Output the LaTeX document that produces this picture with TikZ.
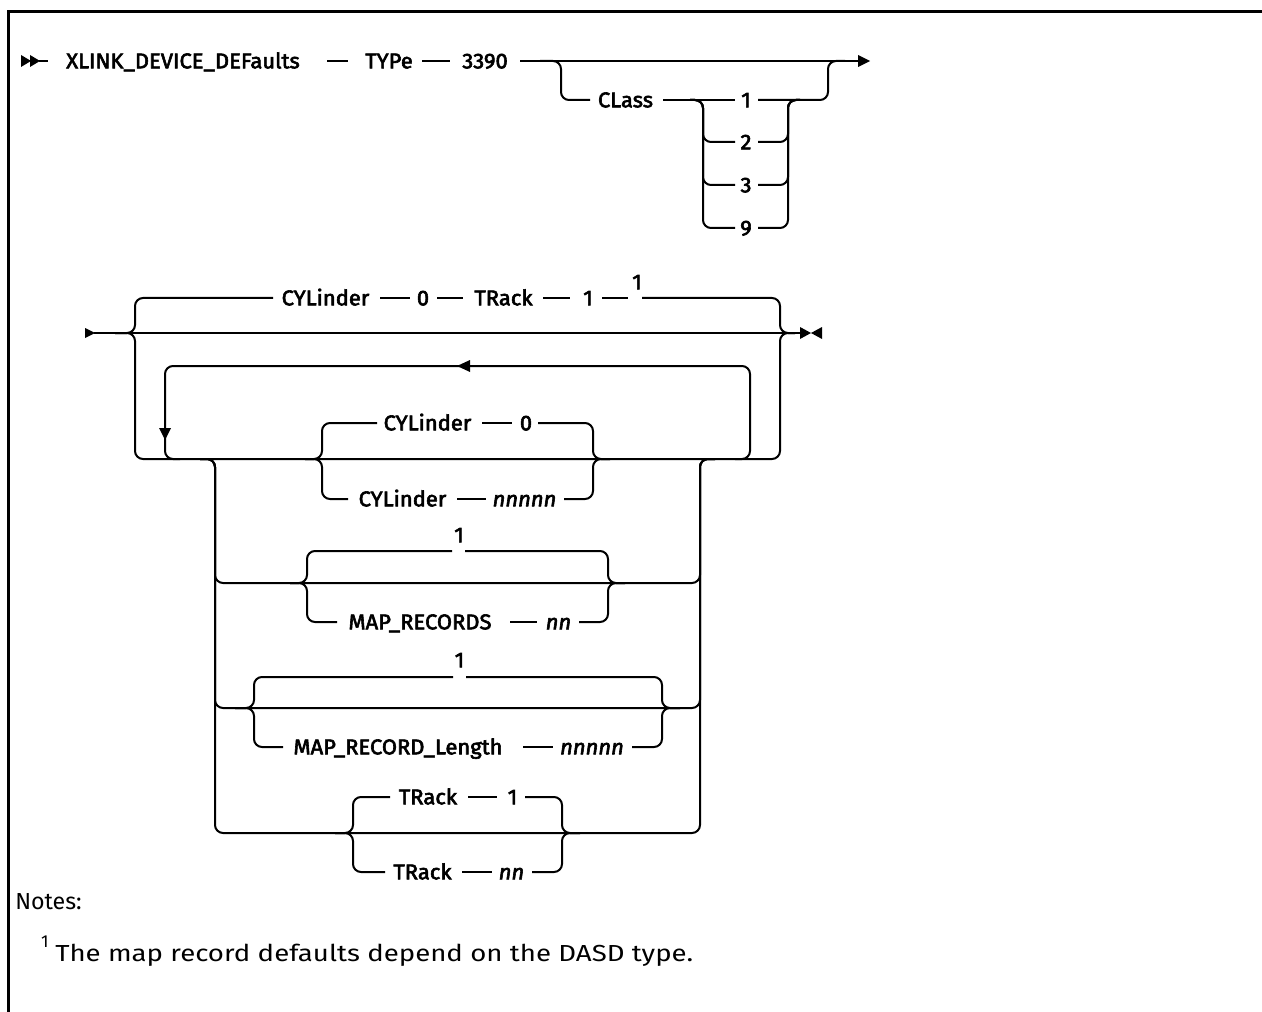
\documentclass[tikz,border=0pt]{standalone}
\usepackage{fontspec}
\setmainfont{Fira Sans}
\newfontfamily\labfont{Fira Sans}[FakeBold=2.8, FakeStretch=1.03]
\newfontfamily\notefont{Fira Sans}
\newfontfamily\notewide{Fira Sans}[FakeStretch=1.19]
\begin{document}
\begin{tikzpicture}[x=0.75pt,y=-0.75pt]
\tikzset{
  ln/.style={line width=1.5pt, rounded corners=6pt},
  lab/.style={font=\labfont\fontsize{16}{16}\selectfont, anchor=base, inner sep=0pt},
  labi/.style={font=\labfont\itshape\fontsize{16}{16}\selectfont, anchor=base, inner sep=0pt},
  note/.style={font=\notefont\fontsize{17.4}{17.4}\selectfont, anchor=base west, inner sep=0pt},
  notew/.style={font=\notewide\fontsize{17.4}{17.4}\selectfont, anchor=base west, inner sep=0pt},
  frame/.style={line width=2.25pt},
}
\newcommand\lbl[5][lab]{\node[#1] (#2) at (#3,{#4+7.3}) {#5};}
\useasboundingbox (0,0) rectangle (1262,1012);
% frame
\draw[frame] (1262,12) -- (8,12) -- (8,1012);

% ---------------- row 1 ----------------
\fill (21,55) -- (31,61) -- (21,67) -- cycle;
\fill (30,55) -- (40,61) -- (30,67) -- cycle;
\draw[ln] (39,61) -- (48,61);
\lbl{xl}{183}{61}{XLINK\_DEVICE\_DEFaults}
\draw[ln] (327,61) -- (348,61);
\lbl{typ}{389}{61}{TYPe}
\draw[ln] (422,61) -- (450,61);
\lbl{t3390}{485}{61}{3390}
\draw[ln] (520,61) -- (860,61);
\fill (858,55) -- (870,61) -- (858,67) -- cycle;
\draw[ln] (540,61) -- (561,61) -- (561,100) -- (590,100);
\lbl{cls}{625.5}{100}{CLass}
\draw[ln] (663,100) -- (735,100);
\draw[ln] (758,100) -- (828,100) -- (828,61) -- (845,61);
\foreach \yy in {142,185,228}{
  \draw[ln] (690,100) -- (703,100) -- (703,\yy) -- (735,\yy);
  \draw[ln] (758,\yy) -- (788,\yy) -- (788,100) -- (800,100);
}
\lbl{c1}{746}{100}{1}
\lbl{c2}{746}{142}{2}
\lbl{c3}{746}{185}{3}
\lbl{c9}{746}{228}{9}

% ---------------- row 2 ----------------
\fill (85,328) -- (95,333) -- (85,338) -- cycle;
\draw[ln] (94,333) -- (801,333);
\fill (800,327) -- (811,333) -- (800,339) -- cycle;
\fill (822,327) -- (811,333) -- (822,339) -- cycle;
% default branch above
\draw[ln] (115,333) -- (135,333) -- (135,298) -- (273,298);
\lbl{cyl0}{325.5}{298}{CYLinder}
\draw[ln] (380,298) -- (410,298);
\lbl{zero0}{423}{298}{0}
\draw[ln] (437,298) -- (463,298);
\lbl{trk0}{503.5}{298}{TRack}
\draw[ln] (543,298) -- (570,298);
\lbl{one0}{588}{298}{1}
\draw[ln] (602,298) -- (628,298);
\lbl{sup0}{637}{282}{1}
\draw[ln] (642,298) -- (780,298) -- (780,333) -- (795,333);
% lower branch
\draw[ln] (115,333) -- (135,333) -- (135,459) -- (780,459) -- (780,333) -- (795,333);
% repeat loop
\draw[ln] (735,459) -- (750,459) -- (750,366) -- (165,366) -- (165,459) -- (180,459);
\fill (470,360) -- (457,366) -- (470,372) -- cycle;
\fill (159,428) -- (165,440) -- (171,428) -- cycle;
% outer choice
\foreach \yy in {583,708,833}{
  \draw[ln] (200,459) -- (215,459) -- (215,\yy) -- (700,\yy) -- (700,459) -- (715,459);
}
% CYLinder group
\draw[ln] (305,459) -- (322,459) -- (322,423) -- (377,423);
\draw[ln] (305,459) -- (322,459) -- (322,499) -- (348,499);
\lbl{cyla}{427.5}{423}{CYLinder}
\draw[ln] (482,423) -- (512,423);
\lbl{zeroa}{526}{423}{0}
\draw[ln] (538,423) -- (593,423) -- (593,459) -- (610,459);
\lbl{cylb}{402.5}{499}{CYLinder}
\draw[ln] (457,499) -- (486,499);
\lbl[labi]{nb}{524.5}{499}{nnnnn}
\draw[ln] (564,499) -- (593,499) -- (593,459) -- (610,459);
% MAP_RECORDS group
\lbl{mr1}{459}{535}{1}
\draw[ln] (290,583) -- (307,583) -- (307,551) -- (452,551);
\draw[ln] (465,551) -- (608,551) -- (608,583) -- (625,583);
\draw[ln] (290,583) -- (307,583) -- (307,622) -- (337,622);
\lbl{mr}{420}{622}{MAP\_RECORDS}
\draw[ln] (510,622) -- (537,622);
\lbl[labi]{mrn}{558.5}{622}{nn}
\draw[ln] (579,622) -- (608,622) -- (608,583) -- (625,583);
% MAP_RECORD_Length group
\lbl{ml1}{459.5}{660}{1}
\draw[ln] (235,708) -- (254,708) -- (254,677) -- (453,677);
\draw[ln] (466,677) -- (662,677) -- (662,708) -- (680,708);
\draw[ln] (235,708) -- (254,708) -- (254,747) -- (283,747);
\lbl{ml}{398}{747}{MAP\_RECORD\_Length}
\draw[ln] (523,747) -- (553,747);
\lbl[labi]{mln}{592}{747}{nnnnn}
\draw[ln] (632,747) -- (662,747) -- (662,708) -- (680,708);
% TRack group
\draw[ln] (335,833) -- (353,833) -- (353,797) -- (390,797);
\lbl{tra}{428}{797}{TRack}
\draw[ln] (468,797) -- (497,797);
\lbl{tra1}{512.5}{797}{1}
\draw[ln] (525,797) -- (562,797) -- (562,833) -- (580,833);
\draw[ln] (335,833) -- (353,833) -- (353,872) -- (385,872);
\lbl{trb}{422.5}{872}{TRack}
\draw[ln] (462,872) -- (492,872);
\lbl[labi]{trbn}{511.5}{872}{nn}
\draw[ln] (532,872) -- (562,872) -- (562,833) -- (580,833);

% notes
\node[note] (notes) at (15,909) {Notes:};
\node[font=\notefont\fontsize{13}{13}\selectfont, anchor=base, inner sep=0pt] (nsup) at (45,947) {1};
\node[notew] (note1) at (55,961) {The map record defaults depend on the DASD type.};
\end{tikzpicture}
\end{document}
